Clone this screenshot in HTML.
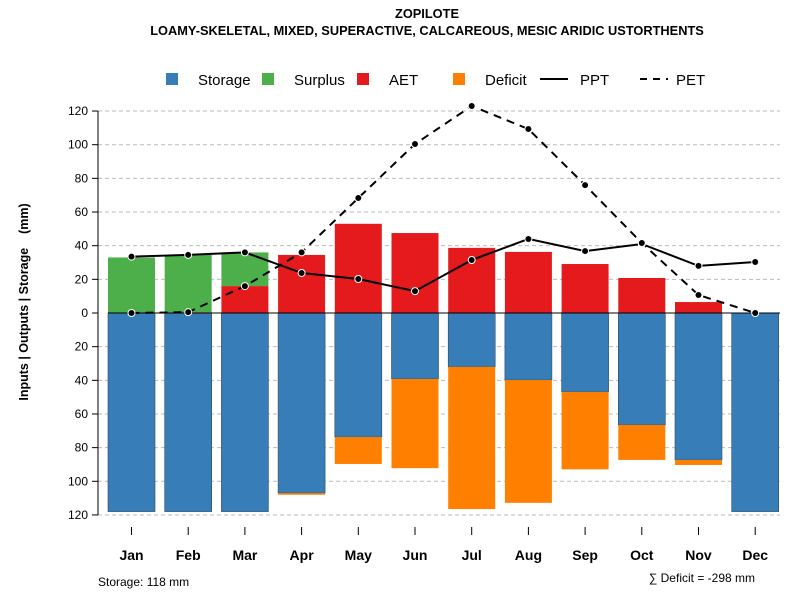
<!DOCTYPE html>
<html><head><meta charset="utf-8"><style>
body{margin:0;background:#fff}
svg text{font-family:"Liberation Sans",sans-serif}
</style></head><body>
<svg id="chart" width="800" height="600" xmlns="http://www.w3.org/2000/svg">
<text x="427" y="18" text-anchor="middle" font-size="12.8" font-weight="bold">ZOPILOTE</text>
<text x="427" y="35" text-anchor="middle" font-size="12.8" font-weight="bold">LOAMY-SKELETAL, MIXED, SUPERACTIVE, CALCAREOUS, MESIC ARIDIC USTORTHENTS</text>
<g id="legend" font-size="15">
<rect x="166" y="73" width="12" height="12" fill="#377eb8"/><text x="198" y="85">Storage</text>
<rect x="262" y="73" width="12" height="12" fill="#4daf4a"/><text x="294" y="85">Surplus</text>
<rect x="357" y="73" width="12" height="12" fill="#e41a1c"/><text x="389" y="85">AET</text>
<rect x="453" y="73" width="12" height="12" fill="#ff7f00"/><text x="485" y="85">Deficit</text>
<line x1="540" y1="79" x2="568" y2="79" stroke="#000" stroke-width="2"/><text x="580" y="85">PPT</text>
<line x1="640" y1="79" x2="668" y2="79" stroke="#000" stroke-width="2" stroke-dasharray="7,6"/><text x="676" y="85">PET</text>
</g>
<g id="grid"></g><g id="bars"></g><g id="axes"></g><g id="lines"></g>
<text transform="translate(28,302) rotate(-90)" text-anchor="middle" font-size="12.5" font-weight="bold" xml:space="preserve">Inputs | Outputs | Storage    (mm)</text>
<text x="98" y="586" font-size="12">Storage: 118 mm</text>
<text x="755" y="582" text-anchor="end" font-size="12">∑ Deficit = -298 mm</text>
</svg>
<script>
const months=["Jan","Feb","Mar","Apr","May","Jun","Jul","Aug","Sep","Oct","Nov","Dec"];
const ppt=[33.5,34.5,36,23.8,20.2,13,31.5,44,36.8,41,28,30.3];
const pet=[0,0.5,16,36,68.3,100.4,123,109.3,76,41.6,10.7,0];
const aet=[0,0.5,16,34.5,53,47.5,38.7,36.3,29.1,20.8,6.5,0];
const surplus=[33,34,20,0,0,0,0,0,0,0,0,0];
const storage=[118,118,118,107,73.7,39.2,32,39.8,46.9,66.5,87.3,118];
const deficit=[0,0,0,1,16,53,84.5,73,46,20.8,3,0];
const yTicks=[120,100,80,60,40,20,0,20,40,60,80,100,120];
const yVals=[120,100,80,60,40,20,0,-20,-40,-60,-80,-100,-120];
const NS="http://www.w3.org/2000/svg";
const y=v=>313-v*1.683, x=i=>131.5+i*56.7, bw=47;
function mk(p,t,a){const e=document.createElementNS(NS,t);for(const k in a)e.setAttribute(k,a[k]);document.getElementById(p).appendChild(e);return e;}
yVals.forEach((v,i)=>{
 if(v!==0){const g=mk("grid","line",{x1:98,x2:780,y1:y(v),y2:y(v),stroke:"#bbb","stroke-dasharray":"4,3"});
 
 }
 const t=mk("axes","line",{x1:92,x2:98,y1:y(v),y2:y(v),stroke:"#000"});
 
 
 const l=mk("axes","text",{x:88,y:y(v)+4,"text-anchor":"end","font-size":12});l.textContent=yTicks[i];
 
 
});
const ax=mk("axes","line",{x1:98,x2:98,y1:y(120),y2:y(-120),stroke:"#000"});


months.forEach((m,i)=>{
 const cx=x(i),L=cx-bw/2;
 const s=mk("bars","rect",{x:L,y:y(0),width:bw,height:storage[i]*1.683,fill:"#377eb8",stroke:"#2a4a66","stroke-width":0.6});
 
 
 if(deficit[i]>0){const d=mk("bars","rect",{x:L,y:y(-storage[i]),width:bw,height:deficit[i]*1.683,fill:"#ff7f00"});
 
 }
 if(aet[i]>0){const a=mk("bars","rect",{x:L,y:y(aet[i]),width:bw,height:aet[i]*1.683,fill:"#e41a1c"});
 
 }
 if(surplus[i]>0){const u=mk("bars","rect",{x:L,y:y(aet[i]+surplus[i]),width:bw,height:surplus[i]*1.683,fill:"#4daf4a"});
 
 }
 const t=mk("axes","line",{x1:cx,x2:cx,y1:527,y2:535,stroke:"#000"});
 
 
 const l=mk("axes","text",{x:cx,y:560,"text-anchor":"middle","font-size":14,"font-weight":"bold"});l.textContent=m;
 
 
});
const zl=mk("axes","line",{x1:108,x2:780,y1:313,y2:313,stroke:"#000"});


const pp=mk("lines","polyline",{points:ppt.map((v,i)=>x(i)+","+y(v)).join(" "),fill:"none",stroke:"#000","stroke-width":2});


const pe=mk("lines","polyline",{points:pet.map((v,i)=>x(i)+","+y(v)).join(" "),fill:"none",stroke:"#000","stroke-width":2,"stroke-dasharray":"8,6"});


[ppt,pet].forEach((arr,k)=>arr.forEach((v,i)=>{
 const c=mk("lines","circle",{cx:x(i),cy:y(v),r:3.5,fill:"#000",stroke:"#fff","stroke-width":1});
 
 
}));
</script>
</body></html>
